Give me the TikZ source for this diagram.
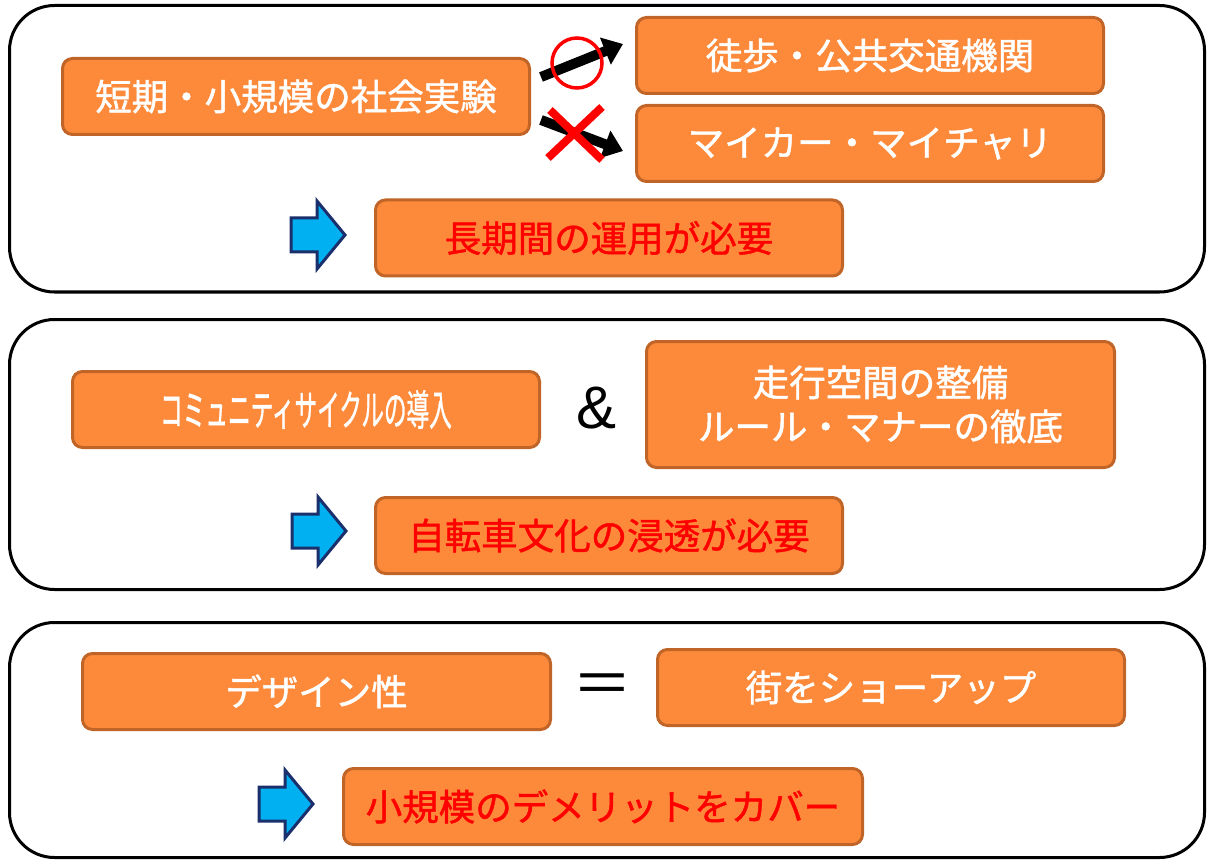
\documentclass[tikz,border=0pt]{standalone}
\usepackage{fontspec}
\newfontfamily\jp[FakeBold=1.3]{Noto Sans CJK JP}
\newfontfamily\jpn{Noto Sans CJK JP}
\newfontfamily\lat{Liberation Sans}
\usetikzlibrary{arrows.meta}
\definecolor{boxfill}{HTML}{FD8A3A}
\definecolor{boxline}{HTML}{C06428}
\definecolor{arrfill}{HTML}{00B0F0}
\definecolor{arrline}{HTML}{1A2F6B}
\definecolor{redtxt}{HTML}{FF0000}
\begin{document}
\begin{tikzpicture}[x=1pt,y=-1pt,
  panel/.style={draw=black, line width=3pt, rounded corners=45pt},
  obox/.style={draw=boxline, fill=boxfill, line width=3pt, rounded corners=10pt,
    inner sep=0pt, minimum width=467pt, minimum height=76pt, text=white,
    font=\jp\fontsize{36.5}{44}\selectfont, align=center},
  concl/.style={obox, text=redtxt},
  bigsym/.style={inner sep=0pt, text=black},
  blackarrow/.style={line width=10pt, black, -{Triangle[length=19pt,width=28pt]}},
  redmark/.style={draw=red, line width=3.5pt},
  redcross/.style={draw=red, line width=8pt},
  bluearrow/.pic={\draw[draw=arrline, fill=arrfill, line width=3pt, line join=miter]
    (0,-17) -- (26,-17) -- (26,-34) -- (54,0) -- (26,34) -- (26,17) -- (0,17) -- cycle;}
]
\useasboundingbox (0,0) rectangle (1208,861);
% panels
\draw[panel] (9.5,5.5) rectangle (1204.5,292);
\draw[panel] (9.5,319.5) rectangle (1204.5,589.5);
\draw[panel] (9.5,622.5) rectangle (1204.5,857.5);

% panel 1
\node[obox] (short) at (296,96.5) {短期・小規模の社会実験};
\node[obox] (walk) at (870,55.5) {徒歩・公共交通機関};
\node[obox] (car) at (870,143.5) {マイカー・マイチャリ};
\node[concl] (long) at (609,238) {長期間の運用が必要};
\pic (ba1) at (291,235) {bluearrow};
\coordinate (t1) at (541,77);
\coordinate (h1) at (623,44);
\coordinate (t2) at (541,120);
\coordinate (h2) at (623,151);
\draw[blackarrow] (t1) -- (h1);
\draw[blackarrow] (t2) -- (h2);
\node[redmark, circle, minimum size=50pt, inner sep=0pt] (okmark) at (577,63) {};
\draw[redcross] (550,110) -- (602,160);
\draw[redcross] (602,107) -- (548,158);

% panel 2
\node[obox] (cycle) at (306,409.5) {\scalebox{0.62}[1.15]{コミュニティサイクルの導入}};
\node[bigsym, font=\lat\fontsize{60}{60}\selectfont] (amp) at (597,408) {\&};
\node[obox, minimum width=468pt, minimum height=126pt] (road) at (880.5,404.5) {走行空間の整備\\ルール・マナーの徹底};
\node[concl] (culture) at (609,535.5) {自転車文化の浸透が必要};
\pic (ba2) at (292,531) {bluearrow};

% panel 3
\node[obox, minimum width=468pt] (design) at (316.5,691.5) {デザイン性};
\node[bigsym, font=\jpn\fontsize{60}{60}\selectfont] (eq) at (602,690) {＝};
\node[obox] (show) at (891,687.5) {街をショーアップ};
\node[concl, minimum width=519pt] (cover) at (603,806.5) {小規模のデメリットをカバー};
\pic (ba3) at (259,804) {bluearrow};
\end{tikzpicture}
\end{document}
